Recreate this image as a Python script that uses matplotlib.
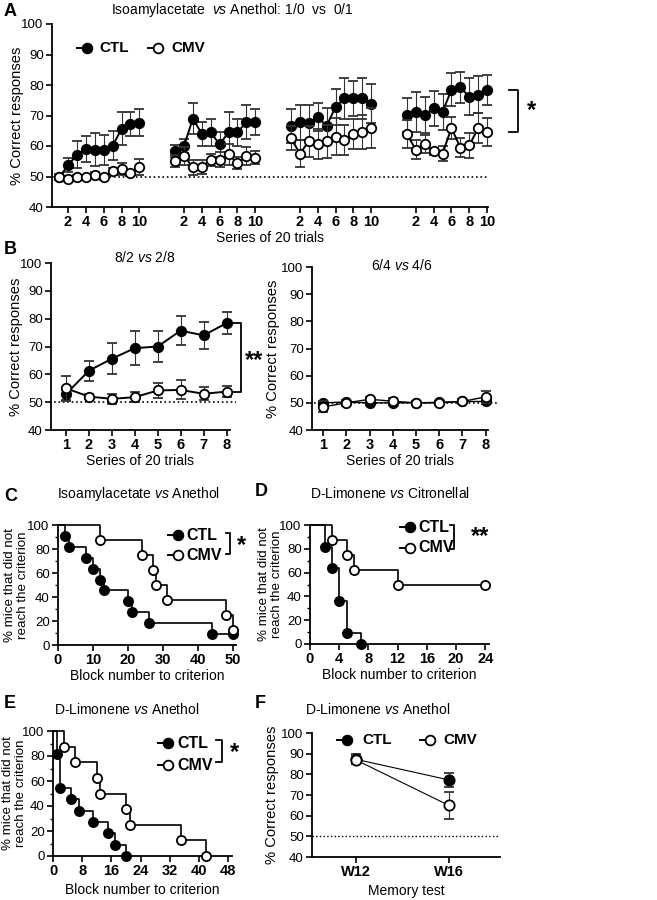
import numpy as np
import matplotlib.pyplot as plt
from matplotlib.lines import Line2D

plt.rcParams['font.family'] = ['Liberation Sans', 'DejaVu Sans']
plt.rcParams['mathtext.fontset'] = 'custom'
plt.rcParams['mathtext.it'] = 'Liberation Sans:italic'
plt.rcParams['mathtext.rm'] = 'Liberation Sans'

W, H = 657, 900

# ---- data ----
# Panel A: 4 sessions x 10 series, mean and SEM
a_ctl = [[49.7, 53.7, 57.1, 59.1, 58.8, 58.8, 60.1, 65.6, 67.3, 67.7],
         [58.3, 60.0, 69.0, 64.0, 64.5, 60.5, 64.5, 64.5, 67.8, 67.8],
         [66.6, 67.8, 67.4, 69.5, 66.6, 72.8, 75.6, 75.6, 75.6, 73.9],
         [70.1, 71.1, 70.1, 72.3, 71.2, 78.4, 79.2, 76.2, 76.8, 78.4]]
a_ctl_err = [[1.0, 2.3, 4.4, 4.2, 5.4, 4.9, 4.7, 5.4, 4.0, 4.3],
             [2.0, 2.3, 5.0, 4.0, 4.5, 4.0, 6.5, 4.5, 5.5, 4.3],
             [5.5, 5.7, 5.9, 4.5, 6.0, 6.0, 6.8, 5.6, 6.6, 6.3],
             [5.5, 6.5, 6.0, 5.7, 6.0, 5.4, 5.0, 6.0, 6.0, 5.0]]
a_cmv = [[49.8, 49.3, 49.8, 49.8, 50.4, 49.8, 51.8, 52.5, 51.2, 53.1],
         [55.0, 56.8, 53.0, 53.0, 55.5, 55.5, 57.3, 54.3, 56.8, 56.2],
         [62.6, 57.5, 61.5, 60.6, 61.5, 63.1, 61.9, 63.9, 64.6, 65.9],
         [63.9, 58.8, 60.6, 58.2, 57.5, 65.9, 59.5, 60.2, 65.9, 64.6]]
a_cmv_err = [[0.8, 0.8, 0.8, 0.8, 1.0, 0.8, 1.0, 2.0, 1.0, 2.6],
             [2.0, 3.0, 2.5, 2.3, 2.0, 2.5, 3.5, 2.0, 3.0, 2.0],
             [4.0, 4.5, 5.0, 5.0, 5.5, 6.0, 5.0, 5.0, 5.5, 6.5],
             [4.5, 3.2, 3.0, 1.0, 2.5, 3.5, 3.0, 4.0, 5.0, 4.5]]
series10 = np.arange(1, 11)

# Panel B: 8 series
series8 = np.arange(1, 9)
b1_ctl = [52.9, 61.3, 65.6, 69.4, 70.0, 75.7, 74.0, 78.4]
b1_ctl_err = [2.0, 3.6, 5.6, 6.0, 5.4, 5.1, 4.8, 3.9]
b1_cmv = [55.0, 52.0, 51.2, 51.8, 54.2, 54.4, 53.0, 53.8]
b1_cmv_err = [4.5, 0.8, 1.8, 1.7, 2.6, 3.4, 2.4, 2.1]
b2_ctl = [50.0, 50.3, 50.0, 50.0, 50.0, 50.2, 50.5, 50.5]
b2_ctl_err = [0.8, 0.8, 0.8, 0.8, 0.5, 0.5, 0.5, 0.8]
b2_cmv = [48.5, 50.0, 51.3, 50.6, 50.0, 50.0, 50.5, 52.2]
b2_cmv_err = [2.0, 1.0, 1.0, 1.0, 0.5, 0.8, 0.8, 2.3]

# Panels C-E: survival curves (block number, % not reaching criterion)
c_ctl_t = [0, 2, 3, 8, 10, 12, 13, 20, 21, 26, 44, 50]
c_ctl_s = [100, 90.9, 81.8, 72.7, 63.6, 54.5, 45.5, 36.4, 27.3, 18.2, 9.1, 9.1]
c_cmv_t = [0, 12, 24, 27, 28, 31, 48, 50]
c_cmv_s = [100, 87.5, 75, 62.5, 50, 37.5, 25, 12.5]

d_ctl_t = [0, 2, 3, 4, 5, 7]
d_ctl_s = [100, 81.8, 63.6, 36.4, 9.1, 0]
d_cmv_t = [0, 3, 5, 6, 12, 24]
d_cmv_s = [100, 87.5, 75, 62.5, 50, 50]

e_ctl_t = [0, 1, 2, 5, 7, 11, 15, 17, 20]
e_ctl_s = [100, 81.8, 54.5, 45.5, 36.4, 27.3, 18.2, 9.1, 0]
e_cmv_t = [0, 3, 6, 12, 13, 20, 21, 35, 42]
e_cmv_s = [100, 87.5, 75, 62.5, 50, 37.5, 25, 12.5, 0]

# Panel F: memory test
f_labels = ['W12', 'W16']
f_ctl = [87.3, 77.3]
f_ctl_err = [2.5, 3.5]
f_cmv = [87.0, 65.0]
f_cmv_err = [2.0, 6.5]

TICK_FS = 9.5
XTICK_FS = 10.5
XLAB_FS = 10
YLAB_FS = 10.6
TITLE_FS = 10


def fx(px):
    return px / W


def fy(py):
    return 1 - py / H


def make_ax(l, t, r, b):
    ax = fig.add_axes([fx(l), fy(b), (r - l) / W, (b - t) / H])
    for s in ['top', 'right']:
        ax.spines[s].set_visible(False)
    for s in ['left', 'bottom']:
        ax.spines[s].set_linewidth(1.3)
    ax.tick_params(direction='out', length=4, width=1.2, labelsize=TICK_FS, pad=2)
    ax.tick_params(axis='x', labelsize=XTICK_FS)
    ax.tick_params(which='minor', direction='out', length=2.5, width=1.0)
    return ax


def style_xt(ax):
    for lab in ax.get_xticklabels():
        lab.set_fontweight('bold')


def ylab(ax, text, xr, fs=YLAB_FS, ls=1.2):
    # xr: right edge of the rotated label, as a fraction of the axes width
    ax.set_ylabel(text, fontsize=fs, linespacing=ls)
    ax.yaxis.set_label_coords(xr, 0.5)


def errline(ax, x, m, e, filled, ms=6.8, lw=1.4, z=3):
    ax.errorbar(x, m, yerr=e, fmt='-o', color='k', mfc='k' if filled else 'w',
                mec='k', mew=1.3, ms=ms, lw=lw, ecolor='#333333', elinewidth=0.8,
                capsize=3.6, capthick=0.8, zorder=z, clip_on=False)


def km(ax, t, s, filled):
    ax.step(t, s, where='post', color='k', lw=1.2, zorder=2, clip_on=False)
    ax.plot(t[1:], s[1:], 'o', ms=6.6, mfc='k' if filled else 'w', mec='k',
            mew=1.3, zorder=3, clip_on=False)


def leg_item(px, py, filled, label, off, fs=11.5):
    fig.add_artist(Line2D([fx(px - 10), fx(px)], [fy(py), fy(py)], color='k', lw=1.4,
                          transform=fig.transFigure))
    fig.add_artist(Line2D([fx(px)], [fy(py)], marker='o', ms=7, mfc='k' if filled else 'w',
                          mec='k', mew=1.3, transform=fig.transFigure))
    fig.text(fx(px + off), fy(py), label, fontsize=fs, fontweight='bold', va='center', ha='left')


def bracket(x, y1, y2, dx, star, sx, sy, fs=17):
    fig.add_artist(Line2D([fx(x - dx), fx(x), fx(x), fx(x - dx)],
                          [fy(y1), fy(y1), fy(y2), fy(y2)], color='k', lw=1.3,
                          transform=fig.transFigure))
    fig.text(fx(sx), fy(sy), star, fontsize=fs, fontweight='bold', va='center', ha='left')


fig = plt.figure(figsize=(W / 100, H / 100), dpi=100)

# ---------------- Panel A ----------------
ax = make_ax(52, 24, 488, 207)
for s in range(4):
    x = 13 * s + series10
    errline(ax, x, a_ctl[s], a_ctl_err[s], True)
    errline(ax, x, a_cmv[s], a_cmv_err[s], False, z=4)
ax.axhline(50, color='k', ls=':', lw=1.2, zorder=1)
ax.set_xlim(0.2, 49.1)
ax.set_ylim(40, 100)
ax.set_yticks(range(40, 101, 10))
xt = [13 * s + t for s in range(4) for t in (2, 4, 6, 8, 10)]
ax.set_xticks(xt)
ax.set_xticklabels([str(t) for s in range(4) for t in (2, 4, 6, 8, 10)])
style_xt(ax)
ax.set_xlabel('Series of 20 trials', fontsize=XLAB_FS, labelpad=1)
ylab(ax, '% Correct responses', -0.064)
ax.plot([51.4, 52.5, 52.5, 51.4], [a_ctl[3][-1], a_ctl[3][-1], a_cmv[3][-1], a_cmv[3][-1]],
        color='k', lw=1.3, clip_on=False)
ax.text(53.5, (a_ctl[3][-1] + a_cmv[3][-1]) / 2, '*', fontsize=17, fontweight='bold',
        va='center', ha='left')
leg_item(87, 48, True, 'CTL', 12, fs=11)
leg_item(158, 48, False, 'CMV', 13, fs=11)
fig.text(fx(232), fy(10), r'Isoamylacetate  $\it{vs}$ Anethol: 1/0  vs  0/1',
         fontsize=TITLE_FS, ha='center', va='center')
fig.text(fx(4), fy(12), 'A', fontsize=13, fontweight='bold', va='center')

# ---------------- Panel B ----------------
ax = make_ax(51, 263, 230, 430)
errline(ax, series8, b1_ctl, b1_ctl_err, True)
errline(ax, series8, b1_cmv, b1_cmv_err, False, z=4)
ax.plot([0.5, 8.4], [50, 50], color='k', ls=':', lw=1.2, zorder=1, clip_on=False)
ax.set_xlim(0.35, 8.15)
ax.set_ylim(40, 100)
ax.set_yticks(range(40, 101, 10))
ax.set_xticks(series8)
style_xt(ax)
ax.set_xlabel('Series of 20 trials', fontsize=XLAB_FS, labelpad=1)
ylab(ax, '% Correct responses', -0.156)
ax.plot([8.3, 8.65, 8.65, 8.3], [b1_ctl[-1], b1_ctl[-1], b1_cmv[-1], b1_cmv[-1]],
        color='k', lw=1.3, clip_on=False)
ax.text(8.8, 65, '**', fontsize=17, fontweight='bold', va='center', ha='left')
fig.text(fx(145), fy(258), r'8/2 $\it{vs}$ 2/8', fontsize=TITLE_FS, ha='center', va='center')
fig.text(fx(4), fy(250), 'B', fontsize=13, fontweight='bold', va='center')

ax = make_ax(312, 267, 488, 430)
errline(ax, series8, b2_ctl, b2_ctl_err, True, lw=1.0)
errline(ax, series8, b2_cmv, b2_cmv_err, False, lw=1.0, z=4)
ax.plot([0.6, 8.5], [50, 50], color='k', ls=':', lw=1.2, zorder=1, clip_on=False)
ax.set_xlim(0.52, 8.1)
ax.set_ylim(40, 100)
ax.set_yticks(range(40, 101, 10))
ax.set_xticks(series8)
style_xt(ax)
ax.set_xlabel('Series of 20 trials', fontsize=XLAB_FS, labelpad=1)
ylab(ax, '% Correct responses', -0.182)
fig.text(fx(402), fy(266), r'6/4 $\it{vs}$ 4/6', fontsize=TITLE_FS, ha='center', va='center')

# ---------------- Panel C ----------------
ylab2 = '% mice that did not\nreach the criterion'
ax = make_ax(58, 525, 236, 645)
km(ax, c_ctl_t, c_ctl_s, True)
km(ax, c_cmv_t, c_cmv_s, False)
ax.set_xlim(0, 50.8)
ax.set_ylim(0, 100)
ax.set_xticks(range(0, 51, 10))
ax.set_yticks(range(0, 101, 20))
ax.set_yticks(range(0, 101, 10), minor=True)
style_xt(ax)
ax.set_xlabel('Block number to criterion', fontsize=XLAB_FS, labelpad=1)
ylab(ax, ylab2, -0.163, fs=9.6, ls=1.1)
leg_item(178, 535, True, 'CTL', 8)
leg_item(178, 555, False, 'CMV', 8)
bracket(230, 533, 554, 4, '*', 237, 546)
fig.text(fx(139), fy(494), r'Isoamylacetate $\it{vs}$ Anethol', fontsize=TITLE_FS, ha='center', va='center')
fig.text(fx(4), fy(497), 'C', fontsize=13, fontweight='bold', va='center')

# ---------------- Panel D ----------------
ax = make_ax(310, 525, 489, 644)
km(ax, d_ctl_t, d_ctl_s, True)
km(ax, d_cmv_t, d_cmv_s, False)
ax.set_xlim(0, 24.5)
ax.set_ylim(0, 100)
ax.set_xticks(range(0, 25, 4))
ax.set_yticks(range(0, 101, 20))
ax.set_yticks(range(0, 101, 10), minor=True)
style_xt(ax)
ax.set_xlabel('Block number to criterion', fontsize=XLAB_FS, labelpad=1)
ylab(ax, ylab2, -0.151, fs=9.6, ls=1.1)
leg_item(410, 527, True, 'CTL', 8)
leg_item(410, 548, False, 'CMV', 8)
bracket(454, 525, 549, 4, '**', 471, 537)
fig.text(fx(390), fy(494), r'D-Limonene $\it{vs}$ Citronellal', fontsize=TITLE_FS, ha='center', va='center')
fig.text(fx(255), fy(491), 'D', fontsize=13, fontweight='bold', va='center')

# ---------------- Panel E ----------------
ax = make_ax(53, 731, 232, 856)
km(ax, e_ctl_t, e_ctl_s, True)
km(ax, e_cmv_t, e_cmv_s, False)
ax.set_xlim(0, 49)
ax.set_ylim(0, 100)
ax.set_xticks(range(0, 49, 8))
ax.set_yticks(range(0, 101, 20))
ax.set_yticks(range(0, 101, 10), minor=True)
style_xt(ax)
ax.set_xlabel('Block number to criterion', fontsize=XLAB_FS, labelpad=3)
ylab(ax, ylab2, -0.145, fs=9.6, ls=1.1)
leg_item(168, 743, True, 'CTL', 9)
leg_item(168, 765, False, 'CMV', 9)
bracket(222, 740, 762, 6, '*', 230, 753)
fig.text(fx(127), fy(710), r'D-Limonene $\it{vs}$ Anethol', fontsize=TITLE_FS, ha='center', va='center')
fig.text(fx(4), fy(704), 'E', fontsize=13, fontweight='bold', va='center')

# ---------------- Panel F ----------------
ax = make_ax(312, 733, 500, 857)
fxp = np.arange(len(f_labels))
errline(ax, fxp, f_ctl, f_ctl_err, True, ms=7.4, lw=0.8)
errline(ax, fxp, f_cmv, f_cmv_err, False, ms=7.4, lw=0.8, z=4)
ax.axhline(50, color='k', ls=':', lw=1.0, zorder=1)
ax.set_xlim(-0.47, 1.55)
ax.set_ylim(40, 100)
ax.set_yticks(range(40, 101, 10))
ax.set_xticks(fxp)
ax.set_xticklabels(f_labels)
style_xt(ax)
ax.set_xlabel('Memory test', fontsize=XLAB_FS, labelpad=3)
ylab(ax, '% Correct responses', -0.176)
leg_item(347, 740, True, 'CTL', 15, fs=11)
leg_item(430, 740, False, 'CMV', 13, fs=11)
fig.text(fx(378), fy(710), r'D-Limonene $\it{vs}$ Anethol', fontsize=TITLE_FS, ha='center', va='center')
fig.text(fx(255), fy(704), 'F', fontsize=13, fontweight='bold', va='center')

fig.savefig('out.png', dpi=100)
